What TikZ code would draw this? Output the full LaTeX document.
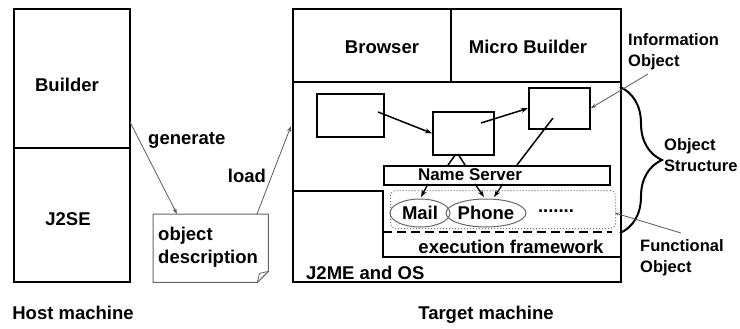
\documentclass[tikz,border=0pt]{standalone}
\usepackage{fontspec}
\setmainfont{Liberation Sans}
\usetikzlibrary{arrows.meta,decorations.pathreplacing,calc,shapes.geometric}
\begin{document}
\begin{tikzpicture}[x=1pt,y=-1pt,
 box/.style={draw,line width=2pt,inner sep=0pt,anchor=north west},
 ibox/.style={draw,line width=1.6pt,inner sep=0pt,anchor=north west},
 lbl/.style={font=\fontsize{18.5}{23}\selectfont\bfseries,inner sep=0pt},
 ann/.style={font=\fontsize{16.5}{21}\selectfont\bfseries,inner sep=0pt,align=left,anchor=west},
 arr/.style={-{Stealth[length=7pt,width=5pt]},line width=1.5pt},
 garr/.style={-{Stealth[length=6pt,width=4pt]},line width=0.8pt,draw=black!65}]
\useasboundingbox (0,0) rectangle (740,329);
% host machine
\node[box,minimum width=116,minimum height=139] (hb) at (13,8) {};
\node[box,minimum width=116,minimum height=134] (hj) at (13,147) {};
\node[lbl] (tb) at (67,85) {Builder};
\node[lbl] (tj) at (68,219) {J2SE};
% note
\node[inner sep=0pt,minimum width=115,minimum height=68,anchor=north west] (note) at (153,214) {};
\draw[black!60,line width=1pt] (note.north west) -- (note.north east) -- ($(note.south east)+(0,-11)$) -- ($(note.south east)+(-11,0)$) -- (note.south west) -- cycle;
\draw[black!60,line width=0.8pt] ($(note.south east)+(-11,0)$) -- ($(note.south east)+(-9,-9)$) -- ($(note.south east)+(0,-11)$);
\node[lbl,align=left,anchor=west] (notetxt) at (158,247.5) {object\\description};
\coordinate (g0) at (130,122);
\coordinate (gend) at (177,214);
\draw[garr] (g0) -- (gend);
\node[lbl,anchor=west] (gen) at (148,140) {generate};
\coordinate (l0) at (257,214);
\coordinate (lend) at (291,126);
\draw[garr] (l0) -- (lend);
\node[lbl] (load) at (247,176) {load};
% target machine
\node[box,minimum width=328,minimum height=273] (tgt) at (292,8) {};
\node[box,minimum width=158,minimum height=73] (brw) at (292,8) {};
\node[box,minimum width=170,minimum height=73] (mb) at (450,8) {};
\node[lbl] (tbrw) at (382,47) {Browser};
\node[lbl] (tmb) at (528,47) {Micro Builder};
\draw[line width=2pt] (292,191) -- (383,191) -- (383,257) -- (620,257);
\node[ibox,minimum width=226,minimum height=19] (ns) at (383,165) {};
\node[font=\fontsize{17}{20}\selectfont\bfseries,inner sep=0pt] (tns) at (470,174.5) {Name Server};
\node[ibox,minimum width=67,minimum height=43] (b1) at (316,93) {};
\node[ibox,minimum width=61,minimum height=43] (b2) at (432,111) {};
\node[ibox,minimum width=61,minimum height=41] (b3) at (528,87) {};
\coordinate (a1) at (378,112);
\coordinate (a2) at (481,123);
\coordinate (a3) at (553,118);
\draw[arr] (a1) -- (b2.west);
\draw[arr] (a2) -- (b3.west);
\draw[line width=1.5pt] (a3) -- (517,165);
\draw[line width=1.5pt] (448,165) -- (456,154);
\draw[line width=1.5pt] (458,154) -- (465,165);
\node[draw=black!55,dotted,line width=1pt,rounded corners=5pt,anchor=north west,minimum width=225,minimum height=38,inner sep=0pt] (fobj) at (390,190) {};
\node[lbl,draw=black!60,line width=1pt,ellipse,minimum width=60,minimum height=28] (mail) at (420,213) {Mail};
\node[lbl,draw=black!60,line width=1pt,ellipse,minimum width=61,minimum height=28] (phone) at (486,213) {Phone};
\node[lbl] (dots) at (556,211) {.......};
\draw[arr,line width=1.3pt] (428,184) -- (421,197);
\draw[arr,line width=1.3pt] (475,184) -- (484,197);
\draw[arr,line width=1.3pt] (503,184) -- (494,197);
\draw[line width=2pt,dash pattern=on 9pt off 5pt] (383,232) -- (612,232);
\node[lbl] (exec) at (511,247) {execution framework};
\node[lbl,anchor=west] (j2me) at (306,273) {J2ME and OS};
% annotations
\draw[line width=2pt,decorate,decoration={brace,amplitude=42pt}] (620,87) -- (620,233);
\node[ann] (info) at (628,51.5) {Information\\Object};
\node[ann] (ostr) at (664,155.5) {Object\\Structure};
\node[ann] (func) at (640,257.5) {Functional\\Object};
\coordinate (i0) at (648,74);
\draw[garr] (i0) -- (b3.east);
\coordinate (f0) at (681,233);
\draw[garr,-{Stealth[length=4pt,width=3pt]}] (f0) -- (615,213);
\node[lbl] (host) at (73,313) {Host machine};
\node[lbl] (target) at (486,315) {Target machine};
\end{tikzpicture}
\end{document}
